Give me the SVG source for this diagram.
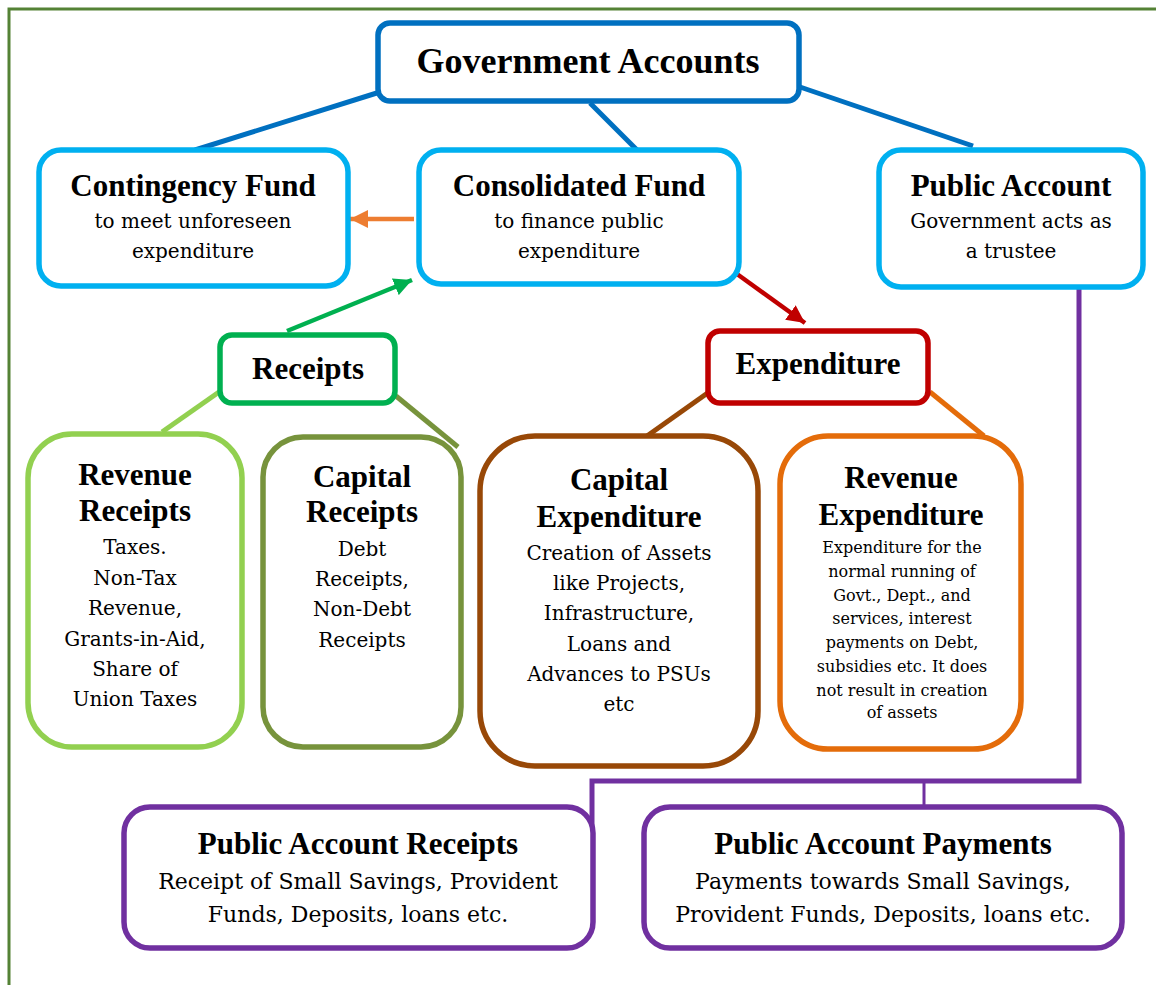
<svg xmlns="http://www.w3.org/2000/svg" width="1156" height="985" viewBox="0 0 1156 985">
<defs>
<style>
.box{fill:#fff;stroke-width:5.5}
.t{font-family:"Liberation Serif","Times New Roman",serif;font-weight:bold;font-size:31px;fill:#000;text-anchor:middle}
.b{font-family:"DejaVu Serif","Liberation Serif",serif;font-size:20px;fill:#000;text-anchor:middle}
.s{font-family:"DejaVu Serif","Liberation Serif",serif;font-size:16px;fill:#000;text-anchor:middle}
.bb{font-family:"DejaVu Serif","Liberation Serif",serif;font-size:22px;fill:#000;text-anchor:middle}
.ln{fill:none;stroke-width:5}
</style>
<marker id="ao" viewBox="0 0 10 10" refX="10" refY="5" markerWidth="4" markerHeight="4" orient="auto" markerUnits="strokeWidth"><path d="M0,0 L10,5 L0,10 z" fill="#ED7D31"/></marker>
<marker id="ag" viewBox="0 0 10 10" refX="10" refY="5" markerWidth="4" markerHeight="4" orient="auto" markerUnits="strokeWidth"><path d="M0,0 L10,5 L0,10 z" fill="#00B050"/></marker>
<marker id="ar" viewBox="0 0 10 10" refX="10" refY="5" markerWidth="4" markerHeight="4" orient="auto" markerUnits="strokeWidth"><path d="M0,0 L10,5 L0,10 z" fill="#C00000"/></marker>
</defs>
<rect width="1156" height="985" fill="#fff"/>
<path d="M9,985 V9 H1156" fill="none" stroke="#548235" stroke-width="3"/>

<g id="connectors">
<line class="ln" x1="380" y1="92" x2="195" y2="150" stroke="#0070C0"/>
<line class="ln" x1="590" y1="103" x2="637" y2="150" stroke="#0070C0"/>
<line class="ln" x1="800" y1="87" x2="973" y2="146" stroke="#0070C0"/>
<line x1="414" y1="219" x2="350" y2="219" stroke="#ED7D31" stroke-width="4.5" marker-end="url(#ao)"/>
<line x1="287" y1="331" x2="412" y2="280" stroke="#00B050" stroke-width="4.5" marker-end="url(#ag)"/>
<line x1="737" y1="274" x2="805" y2="323" stroke="#C00000" stroke-width="4.5" marker-end="url(#ar)"/>
<line class="ln" x1="219" y1="392" x2="162" y2="432" stroke="#92D050"/>
<line class="ln" x1="396" y1="396" x2="458" y2="447" stroke="#77933C"/>
<line class="ln" x1="709" y1="392" x2="647" y2="436" stroke="#984807"/>
<line class="ln" x1="930" y1="392" x2="984" y2="436" stroke="#E46C0A"/>
<path class="ln" d="M1079,288 V781 H592 V830" stroke="#7030A0"/>
<line x1="924" y1="781" x2="924" y2="806" stroke="#7030A0" stroke-width="3"/>
</g>

<g id="gov">
<rect class="box" x="378" y="23" width="421" height="78" rx="12" stroke="#0070C0"/>
<text class="t" x="588" y="73" style="font-size:36px">Government Accounts</text>
</g>

<g id="contingency">
<rect class="box" x="39" y="150" width="309" height="136" rx="22" stroke="#00B0F0"/>
<text class="t" x="193" y="196">Contingency Fund</text>
<text class="b" x="193" y="228">to meet unforeseen</text>
<text class="b" x="193" y="258">expenditure</text>
</g>

<g id="consolidated">
<rect class="box" x="419" y="150" width="320" height="134" rx="22" stroke="#00B0F0"/>
<text class="t" x="579" y="196">Consolidated Fund</text>
<text class="b" x="579" y="228">to finance public</text>
<text class="b" x="579" y="258">expenditure</text>
</g>

<g id="public">
<rect class="box" x="879" y="150" width="264" height="137" rx="22" stroke="#00B0F0"/>
<text class="t" x="1011" y="196">Public Account</text>
<text class="b" x="1011" y="228">Government acts as</text>
<text class="b" x="1011" y="258">a trustee</text>
</g>

<g id="receipts">
<rect class="box" x="220" y="335" width="175" height="68" rx="12" stroke="#00B050"/>
<text class="t" x="308" y="379">Receipts</text>
</g>

<g id="expenditure">
<rect class="box" x="708" y="331" width="220" height="72" rx="12" stroke="#C00000"/>
<text class="t" x="818" y="374">Expenditure</text>
</g>

<g id="revenue-receipts">
<rect class="box" x="28" y="434" width="214" height="313" rx="44" stroke="#92D050"/>
<text class="t" x="135" y="485">Revenue</text>
<text class="t" x="135" y="521">Receipts</text>
<text class="b" x="135" y="554">Taxes.</text>
<text class="b" x="135" y="585">Non-Tax</text>
<text class="b" x="135" y="615">Revenue,</text>
<text class="b" x="135" y="646">Grants-in-Aid,</text>
<text class="b" x="135" y="676">Share of</text>
<text class="b" x="135" y="706">Union Taxes</text>
</g>

<g id="capital-receipts">
<rect class="box" x="263" y="437" width="198" height="310" rx="40" stroke="#77933C"/>
<text class="t" x="362" y="487">Capital</text>
<text class="t" x="362" y="522">Receipts</text>
<text class="b" x="362" y="556">Debt</text>
<text class="b" x="362" y="586">Receipts,</text>
<text class="b" x="362" y="616">Non-Debt</text>
<text class="b" x="362" y="647">Receipts</text>
</g>

<g id="capital-expenditure">
<rect class="box" x="480" y="436" width="278" height="330" rx="55" stroke="#984807"/>
<text class="t" x="619" y="490">Capital</text>
<text class="t" x="619" y="527">Expenditure</text>
<text class="b" x="619" y="560">Creation of Assets</text>
<text class="b" x="619" y="590">like Projects,</text>
<text class="b" x="619" y="620">Infrastructure,</text>
<text class="b" x="619" y="651">Loans and</text>
<text class="b" x="619" y="681">Advances to PSUs</text>
<text class="b" x="619" y="711">etc</text>
</g>

<g id="revenue-expenditure">
<rect class="box" x="780" y="436" width="241" height="313" rx="48" stroke="#E46C0A"/>
<text class="t" x="901" y="488">Revenue</text>
<text class="t" x="901" y="525">Expenditure</text>
<text class="s" x="902" y="553">Expenditure for the</text>
<text class="s" x="902" y="577">normal running of</text>
<text class="s" x="902" y="601">Govt., Dept., and</text>
<text class="s" x="902" y="624">services, interest</text>
<text class="s" x="902" y="648">payments on Debt,</text>
<text class="s" x="902" y="672">subsidies etc. It does</text>
<text class="s" x="902" y="696">not result in creation</text>
<text class="s" x="902" y="718">of assets</text>
</g>

<g id="pa-receipts">
<rect class="box" x="124" y="807" width="469" height="141" rx="26" stroke="#7030A0"/>
<text class="t" x="358" y="854">Public Account Receipts</text>
<text class="bb" x="358" y="889">Receipt of Small Savings, Provident</text>
<text class="bb" x="358" y="922">Funds, Deposits, loans etc.</text>
</g>

<g id="pa-payments">
<rect class="box" x="644" y="807" width="478" height="141" rx="26" stroke="#7030A0"/>
<text class="t" x="883" y="854">Public Account Payments</text>
<text class="bb" x="883" y="889">Payments towards Small Savings,</text>
<text class="bb" x="883" y="922">Provident Funds, Deposits, loans etc.</text>
</g>
</svg>
